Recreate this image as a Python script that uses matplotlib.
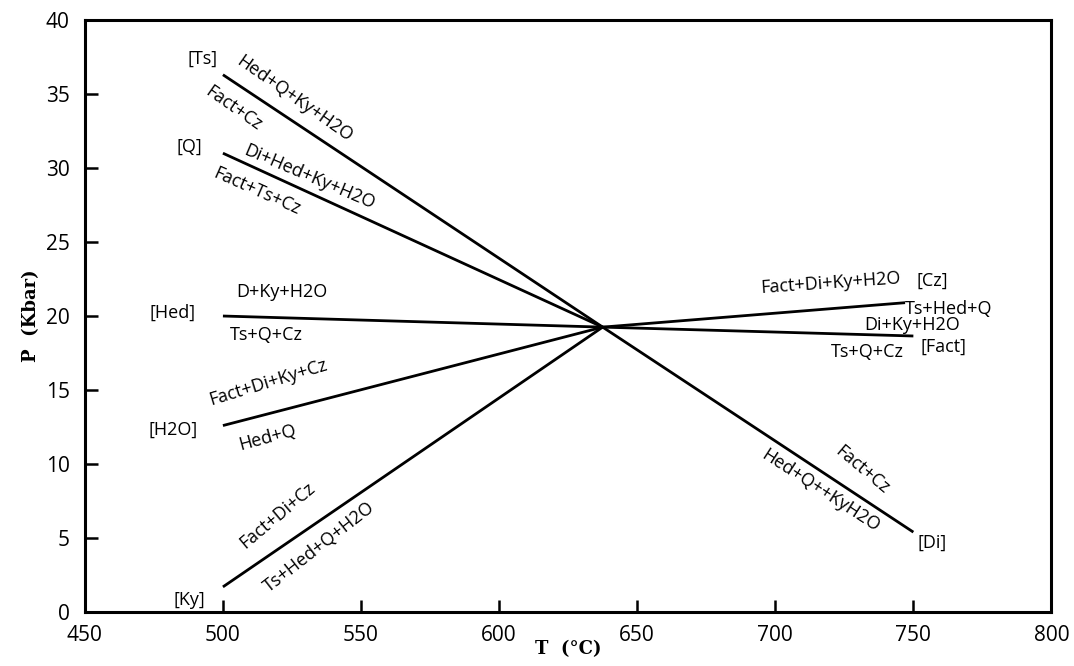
import matplotlib
matplotlib.use('Agg')
from matplotlib import pyplot as plt

# Точка нонвариантного равновесия
inv_T, inv_P = 637.5, 19.25

# Концы моновариантных линий (T, P)
ends_T = [500, 500, 500, 500, 500, 747, 750, 750]
ends_P = [36.3, 31.0, 20.0, 12.6, 1.7, 20.9, 18.65, 5.4]

# Подписи реакций: текст, T, P, угол
lbl_text = ['[Ts]', 'Hed+Q+Ky+H2O', 'Fact+Cz',
            '[Q]', 'Di+Hed+Ky+H2O', 'Fact+Ts+Cz',
            '[Hed]', 'D+Ky+H2O', 'Ts+Q+Cz',
            '[H2O]', 'Fact+Di+Ky+Cz', 'Hed+Q',
            '[Ky]', 'Fact+Di+Cz', 'Ts+Hed+Q+H2O',
            'Fact+Di+Ky+H2O', '[Cz]', 'Ts+Hed+Q',
            'Di+Ky+H2O', '[Fact]', 'Ts+Q+Cz',
            'Fact+Cz', 'Hed+Q++KyH2O', '[Di]']
lbl_T = [492.8, 526.1, 503.7,
         488.0, 531.5, 512.3,
         481.9, 521.4, 515.9,
         481.9, 516.3, 516.0,
         488.0, 519.6, 535.0,
         720.0, 756.9, 762.7,
         749.6, 760.9, 733.3,
         731.5, 716.3, 756.9]
lbl_P = [37.4, 34.7, 34.05,
         31.4, 29.4, 28.4,
         20.2, 21.6, 18.7,
         12.3, 15.5, 11.8,
         0.8, 6.55, 4.4,
         22.2, 22.4, 20.5,
         19.4, 17.9, 17.6,
         9.6, 8.2, 4.66]
lbl_rot = [0, -35, -35,
           0, -23, -24,
           0, 0, 0,
           0, 17, 15,
           0, 40, 38,
           4, 0, 0,
           0, 0, 0,
           -40, -33, 0]

x_ticks = [450, 500, 550, 600, 650, 700, 750, 800]
y_ticks = [0, 5, 10, 15, 20, 25, 30, 35, 40]

fig = plt.figure(figsize=(10.74, 6.66), dpi=100)
ax = fig.add_axes([0.079, 0.081, 0.900, 0.889])

for t, p in zip(ends_T, ends_P):
    ax.plot([t, inv_T], [p, inv_P], color='black', lw=2.0, solid_capstyle='butt')

for s, t, p, r in zip(lbl_text, lbl_T, lbl_P, lbl_rot):
    ax.text(t, p, s, rotation=r, ha='center', va='center',
            fontsize=13, family=['Open Sans', 'DejaVu Sans'],
            rotation_mode='anchor')

ax.set_xlim(450, 800)
ax.set_ylim(0, 40)
ax.set_xticks(x_ticks)
ax.set_yticks(y_ticks)
ax.tick_params(direction='in', length=9, width=1.8, labelsize=15, top=False, right=False)
ax.tick_params(axis='x', pad=9)
ax.tick_params(axis='y', pad=11)
for lab in ax.get_xticklabels() + ax.get_yticklabels():
    lab.set_family(['Open Sans', 'DejaVu Sans'])
for sp in ax.spines.values():
    sp.set_linewidth(2.2)

ax.set_xlabel('T  (°C)', fontsize=13, fontweight='bold', family='DejaVu Serif', labelpad=-4)
ax.set_ylabel('P  (Kbar)', fontsize=13, fontweight='bold', family='DejaVu Serif', labelpad=4)

fig.savefig('out.png', dpi=100)
